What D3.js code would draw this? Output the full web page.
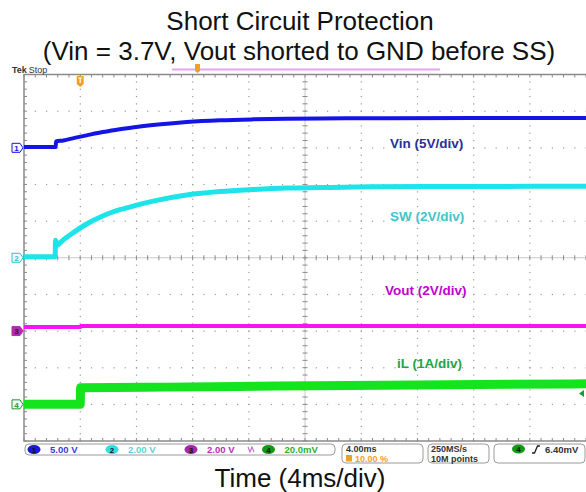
<!DOCTYPE html>
<html>
<head>
<meta charset="utf-8">
<script src="https://cdn.jsdelivr.net/npm/d3@7"></script>
<style>
  body { margin: 0; background: #fff; }
  svg { display: block; }
  text { font-family: "Liberation Sans", Arial, sans-serif; }
</style>
</head>
<body>
<svg id="chart" width="586" height="492"></svg>
<script>
// scope capture, time in ms (4 ms/div, trigger at 0)
var vinT = [-4, -1.74, -1.72, -1.2, -0.4, 0.46, 1.6, 2.83, 4.0, 5.18, 6.4, 7.58, 9.95, 12.3, 14.7, 17.1, 22, 28, 36];
var vinV = [0.1, 0.1, 0.86, 1.0, 1.35, 1.70, 2.15, 2.52, 2.85, 3.11, 3.33, 3.51, 3.75, 3.88, 3.96, 4.01, 4.04, 4.05, 4.05];

var swT = [-4, -1.78, -1.76, -1.62, -1.45, -1.2, -0.73, 0.46, 1.64, 2.83, 4.02, 5.2, 7.58, 9.95, 12.3, 14.7, 17.1, 20.6, 28, 36];
var swV = [0.05, 0.05, 0.95, 0.68, 0.80, 0.98, 1.24, 1.84, 2.29, 2.62, 2.87, 3.09, 3.42, 3.61, 3.72, 3.80, 3.83, 3.87, 3.89, 3.90];

var voutT = [-4, 0, 0.05, 36];
var voutV = [0.22, 0.22, 0.27, 0.27];

var ilT = [-4, 0, 0.03, 6, 14, 24, 36];
var ilA = [0.0, 0.0, 0.45, 0.47, 0.50, 0.53, 0.56];

var channels = [
  { name: "Vin (5V/div)", t: vinT, v: vinV, perDiv: 5, offset: 3, color: "#1414e6", label: "#2c2f94", width: 4 },
  { name: "SW (2V/div)", t: swT, v: swV, perDiv: 2, offset: 0, color: "#1ee4ea", label: "#3ec6cc", width: 5 },
  { name: "Vout (2V/div)", t: voutT, v: voutV, perDiv: 2, offset: -2, color: "#f414f4", label: "#c400d2", width: 4 },
  { name: "iL (1A/div)", t: ilT, v: ilA, perDiv: 1, offset: -4, color: "#14e41e", label: "#22a444", width: 9 }
];
var labelPos = [[390, 148], [390, 221], [385, 295], [397, 368]];

var status1 = [
  { ch: "1", text: "5.00 V", fill: "#1818e0", color: "#3a3ae0" },
  { ch: "2", text: "2.00 V", fill: "#30e0e0", color: "#58d4d8" },
  { ch: "3", text: "2.00 V", fill: "#a428a8", color: "#b030b4" },
  { ch: "4", text: "20.0mV", fill: "#129a12", color: "#2cb02c" }
];

var svg = d3.select("#chart");
var gLeft = 24, gRight = 586, gTop = 74.5, gBottom = 441;

var x = d3.scaleLinear().domain([-4, 36]).range([gLeft, gRight]);
var yDiv = d3.scaleLinear().domain([-5, 5]).range([gBottom, gTop]);

// titles
svg.append("text").attr("x", 300).attr("y", 30).attr("text-anchor", "middle")
  .attr("font-size", 26).attr("fill", "#111").text("Short Circuit Protection");
svg.append("text").attr("x", 299).attr("y", 60).attr("text-anchor", "middle")
  .attr("font-size", 26).attr("fill", "#111").text("(Vin = 3.7V, Vout shorted to GND before SS)");
svg.append("text").attr("x", 300).attr("y", 487).attr("text-anchor", "middle")
  .attr("font-size", 26).attr("fill", "#111").text("Time (4ms/div)");

// graticule
var g = svg.append("g");
var hx = d3.range(0, 51).map(function(i) { return -4 + i * 0.8; });
var vy = d3.range(0, 51).map(function(i) { return -5 + i * 0.2; });
d3.range(-4, 37, 4).forEach(function(t) {
  if (t === -4 || t === 16 || t === 36) return;
  vy.forEach(function(d) {
    g.append("rect").attr("x", x(t) - 0.5).attr("y", yDiv(d) - 0.5)
      .attr("width", 1.2).attr("height", 1.2).attr("fill", "#9a9a9a");
  });
});
d3.range(-5, 6).forEach(function(d) {
  if (d === -5 || d === 0 || d === 5) return;
  hx.forEach(function(t) {
    g.append("rect").attr("x", x(t) - 0.5).attr("y", yDiv(d) - 0.5)
      .attr("width", 1.2).attr("height", 1.2).attr("fill", "#9a9a9a");
  });
});
// center cross with ticks
g.append("line").attr("x1", gLeft).attr("x2", gRight).attr("y1", yDiv(0)).attr("y2", yDiv(0))
  .attr("stroke", "#c8c8c8").attr("stroke-width", 1);
g.append("line").attr("x1", x(16)).attr("x2", x(16)).attr("y1", gTop).attr("y2", gBottom)
  .attr("stroke", "#c8c8c8").attr("stroke-width", 1);
hx.forEach(function(t) {
  g.append("line").attr("x1", x(t)).attr("x2", x(t)).attr("y1", yDiv(0) - 2.5).attr("y2", yDiv(0) + 2.5)
    .attr("stroke", "#8a8a8a");
  g.append("line").attr("x1", x(t)).attr("x2", x(t)).attr("y1", gBottom - 3).attr("y2", gBottom)
    .attr("stroke", "#8a8a8a");
  g.append("line").attr("x1", x(t)).attr("x2", x(t)).attr("y1", gTop).attr("y2", gTop + 3)
    .attr("stroke", "#8a8a8a");
});
vy.forEach(function(d) {
  g.append("line").attr("x1", x(16) - 2.5).attr("x2", x(16) + 2.5).attr("y1", yDiv(d)).attr("y2", yDiv(d))
    .attr("stroke", "#8a8a8a");
  g.append("line").attr("x1", gLeft).attr("x2", gLeft + 3).attr("y1", yDiv(d)).attr("y2", yDiv(d))
    .attr("stroke", "#8a8a8a");
});
// border
g.append("path")
  .attr("d", "M" + gRight + "," + gTop + "H" + gLeft + "V" + gBottom + "H" + gRight)
  .attr("fill", "none").attr("stroke", "#8a8a8a").attr("stroke-width", 1.5);

// traces
var traces = svg.append("g");
channels.forEach(function(c, i) {
  var pts = c.t.map(function(t, j) { return [t, c.v[j]]; });
  var line = d3.line()
    .x(function(d) { return x(d[0]); })
    .y(function(d) { return yDiv(d[1] / c.perDiv + c.offset); })
    .curve(d3.curveMonotoneX);
  traces.append("path").datum(pts).attr("d", line)
    .attr("fill", "none").attr("stroke", c.color).attr("stroke-width", c.width);
  svg.append("text").attr("x", labelPos[i][0]).attr("y", labelPos[i][1])
    .attr("font-size", 13.5).attr("font-weight", "bold").attr("fill", c.label).text(c.name);
});

// channel ground markers
var markStroke = ["#1414e6", "#1ec8d0", "#b02cb4", "#1c9a2c"];
channels.forEach(function(c, i) {
  var yy = yDiv(c.offset);
  var m = svg.append("g").attr("transform", "translate(12," + yy + ")");
  var filled = (i === 2);
  m.append("path").attr("d", "M0,-4.5H8L11,0L8,4.5H0Z")
    .attr("fill", filled ? "#b02cb4" : "#f4f8ff").attr("stroke", markStroke[i]).attr("stroke-width", 1);
  m.append("text").attr("x", 4.5).attr("y", 3.3).attr("text-anchor", "middle")
    .attr("font-size", 8).attr("font-weight", "bold")
    .attr("fill", filled ? "#222" : markStroke[i]).text(i + 1);
});
// trigger level marker (ch4)
svg.append("path").attr("d", "M579,393.5L584,390V397Z").attr("fill", "#1c9a2c");

// Tek Stop
var tek = svg.append("text").attr("x", 12).attr("y", 73).attr("font-size", 9).attr("fill", "#333");
tek.append("tspan").attr("font-weight", "bold").text("Tek");
tek.append("tspan").attr("dx", 2).text("Stop");

// record bar and trigger position markers
svg.append("line").attr("x1", 172).attr("x2", 440).attr("y1", 69.5).attr("y2", 69.5)
  .attr("stroke", "#e2a6ea").attr("stroke-width", 2);
svg.append("path").attr("d", "M195,64H200V71L197.5,73L195,71Z").attr("fill", "#f0a028");
var trig = svg.append("g").attr("transform", "translate(" + x(0) + ",76)");
trig.append("path").attr("d", "M-3.5,0H3.5V8L0,11L-3.5,8Z").attr("fill", "#f0a028");
trig.append("path").attr("d", "M-2,2H2M0,2V7").attr("stroke", "#fff").attr("stroke-width", 1.2);

// status bar
var sb = svg.append("g").attr("font-size", 9).attr("font-weight", "bold");
sb.append("rect").attr("x", 25).attr("y", 444).attr("width", 310).attr("height", 11).attr("rx", 4)
  .attr("fill", "#fff").attr("stroke", "#9a9a9a");
var sx = [34, 112, 191, 268.5];
status1.forEach(function(s, i) {
  sb.append("ellipse").attr("cx", sx[i]).attr("cy", 449.5).attr("rx", 6.5).attr("ry", 4.5).attr("fill", s.fill);
  sb.append("text").attr("x", sx[i]).attr("y", 452.5).attr("text-anchor", "middle")
    .attr("font-size", 8).attr("fill", "#111").text(s.ch);
  sb.append("text").attr("x", sx[i] + 16).attr("y", 453).attr("font-size", 9.5).attr("fill", s.color).text(s.text);
});
sb.append("path").attr("d", "M248,447L250,452L252,447L254,452").attr("fill", "none")
  .attr("stroke", "#c070c8").attr("stroke-width", 1.2);
[[342, 81], [428, 61], [494, 91]].forEach(function(b) {
  sb.append("rect").attr("x", b[0]).attr("y", 444).attr("width", b[1]).attr("height", 19).attr("rx", 4)
    .attr("fill", "#fff").attr("stroke", "#9a9a9a");
});
sb.append("text").attr("x", 346).attr("y", 452).attr("fill", "#333").text("4.00ms");
sb.append("rect").attr("x", 346).attr("y", 455).attr("width", 6).attr("height", 6.5).attr("fill", "#f0a028");
sb.append("text").attr("x", 355).attr("y", 461.5).attr("fill", "#f0a028").text("10.00 %");
sb.append("text").attr("x", 431).attr("y", 452).attr("fill", "#333").text("250MS/s");
sb.append("text").attr("x", 431).attr("y", 461.5).attr("fill", "#333").text("10M points");
sb.append("ellipse").attr("cx", 518.5).attr("cy", 449).attr("rx", 6.5).attr("ry", 4.5).attr("fill", "#129a12");
sb.append("text").attr("x", 518.5).attr("y", 452).attr("text-anchor", "middle")
  .attr("font-size", 8).attr("fill", "#111").text("4");
sb.append("path").attr("d", "M532,453H534.5L537.5,446H540").attr("fill", "none").attr("stroke", "#222").attr("stroke-width", 1.3);
sb.append("text").attr("x", 545).attr("y", 453).attr("font-size", 9.5).attr("fill", "#333").text("6.40mV");
</script>
</body>
</html>
